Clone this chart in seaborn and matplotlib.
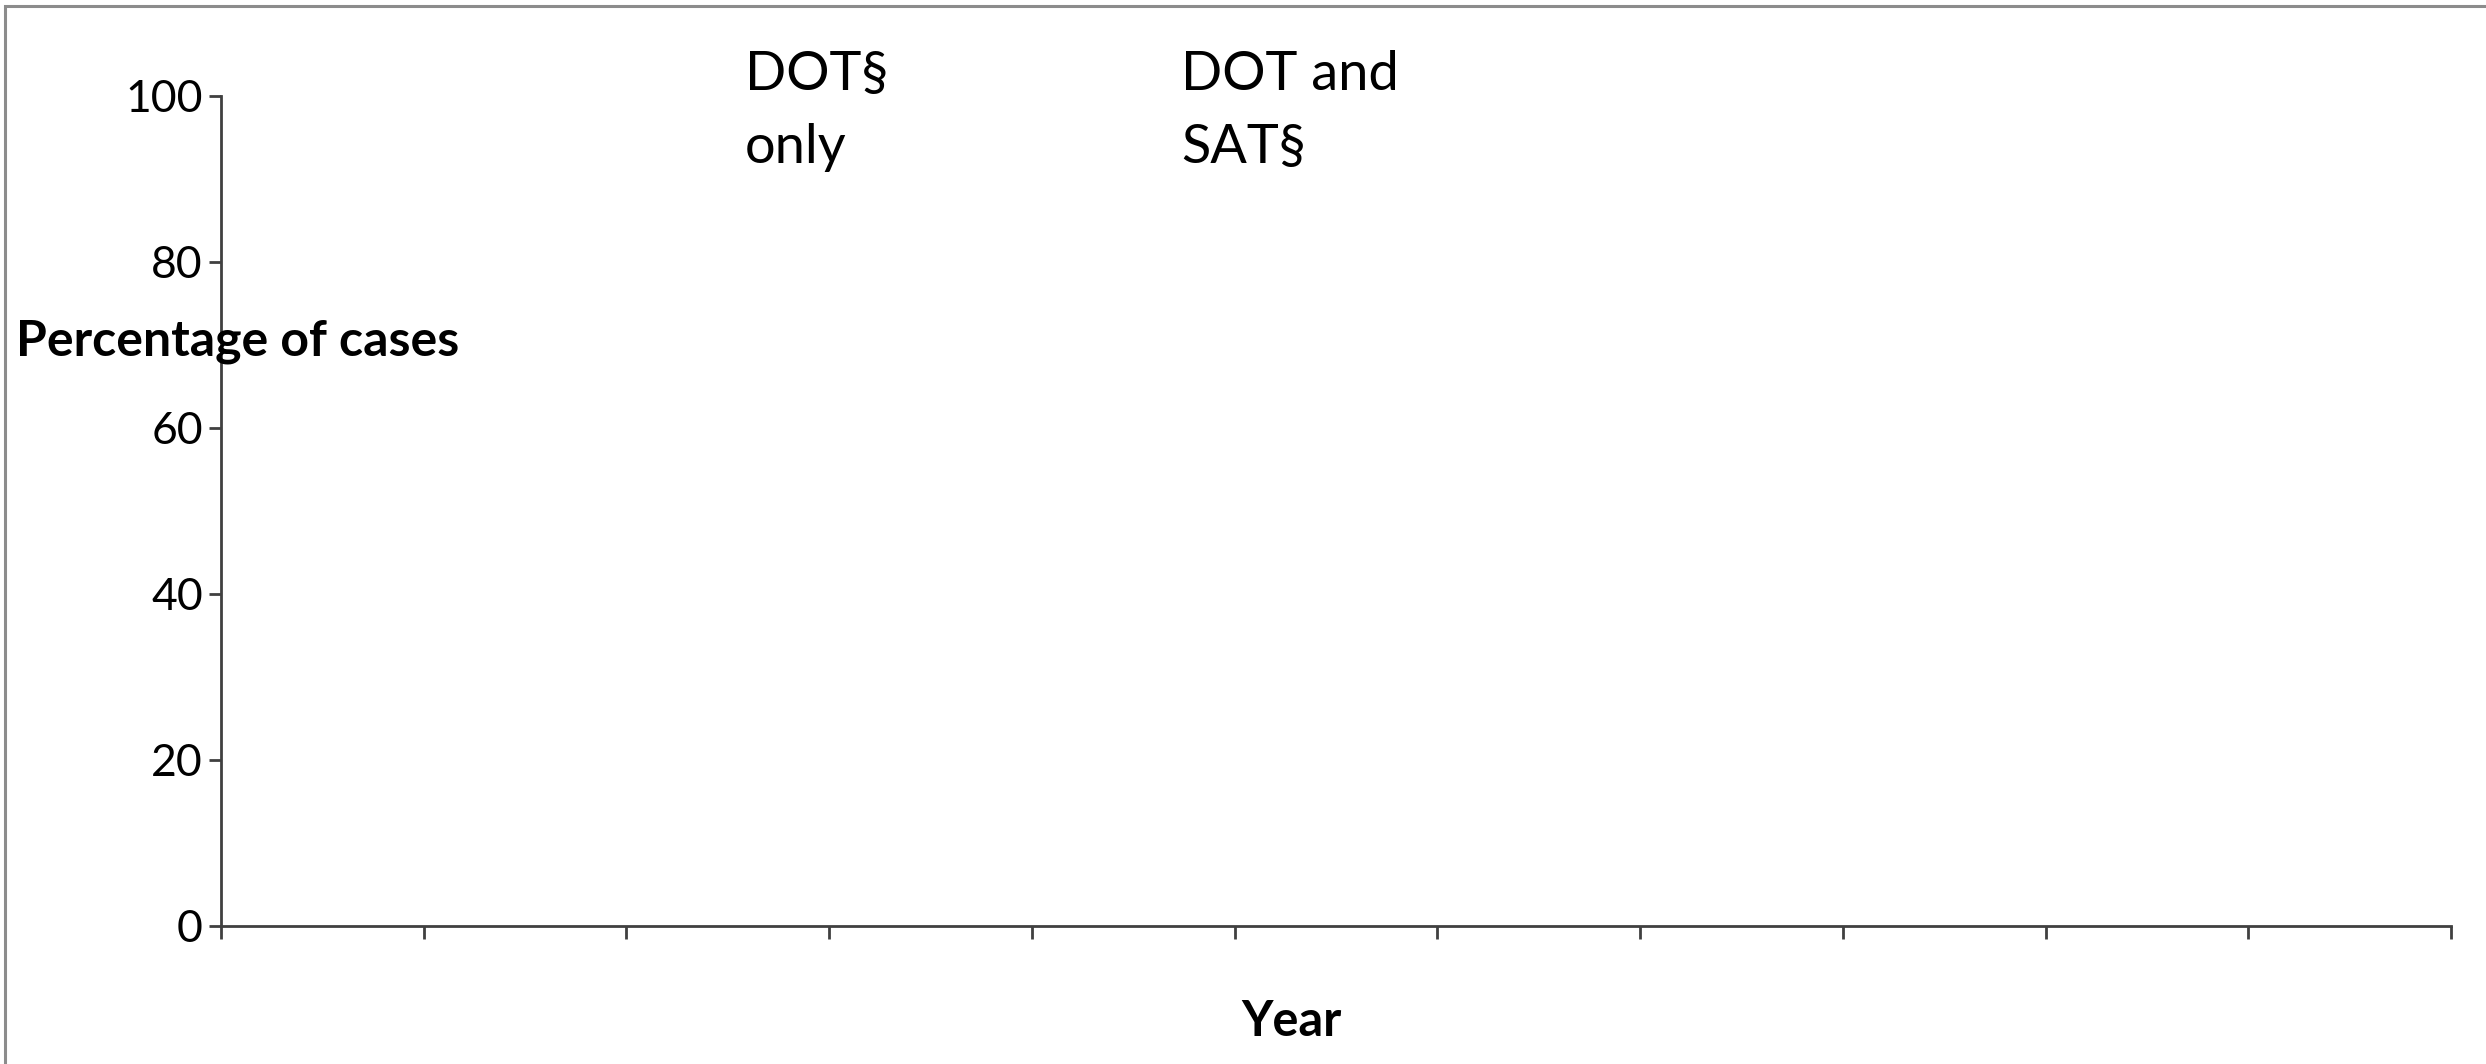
import matplotlib
matplotlib.use("Agg")
import matplotlib.pyplot as plt
import seaborn as sns
import pandas as pd
from matplotlib.patches import Rectangle

# ---- data (the reference chart shows no plotted values) ----
categories = [f"c{i}" for i in range(1, 12)]   # 11 year slots, unlabeled in the reference
values = [0] * 11                               # no visible bars
y_ticks = [0, 20, 40, 60, 80, 100]
annotation_dot_only = "DOT§\nonly"
annotation_dot_sat = "DOT and\nSAT§"
y_label = "Percentage of cases"
x_label = "Year"

sns.set_theme(style="white")
plt.rcParams["font.family"] = ["Lato", "DejaVu Sans"]
plt.rcParams["text.color"] = "black"

W, H = 2486, 1064
fig = plt.figure(figsize=(W / 100, H / 100), dpi=100)
ax = fig.add_axes([221 / W, 138 / H, (2451 - 221) / W, (926 - 96) / H])

df = pd.DataFrame({"cat": categories, "val": values})
sns.barplot(data=df, x="cat", y="val", ax=ax, color="#4f81bd", linewidth=0, errorbar=None)

ax.set_xlim(-0.5, len(categories) - 0.5)
ax.set_ylim(0, 100)
ax.set_yticks(y_ticks)
ax.set_yticklabels([str(t) for t in y_ticks], fontsize=32, color="black")
ax.set_xticks([i - 0.5 for i in range(len(categories) + 1)])
ax.set_xticklabels([])
ax.set_xlabel("")
ax.set_ylabel("")

for s in ["top", "right"]:
    ax.spines[s].set_visible(False)
for s in ["left", "bottom"]:
    ax.spines[s].set_color("#404040")
    ax.spines[s].set_linewidth(2)
ax.tick_params(axis="both", which="major", direction="out", length=9, width=2,
               color="#404040", left=True, bottom=True, pad=4, labelcolor="black")

# annotations
fig.text(745 / W, 1 - 50 / H, annotation_dot_only, fontsize=39, va="top", ha="left",
         linespacing=1.6, color="black")
fig.text(1181 / W, 1 - 50 / H, annotation_dot_sat, fontsize=39, va="top", ha="left",
         linespacing=1.6, color="black")

fig.text(16 / W, 1 - 342 / H, y_label, fontsize=36, fontweight="bold", va="center", ha="left",
         color="black")
fig.text(1291 / W, 1 - 1021 / H, x_label, fontsize=35, fontweight="bold", va="center", ha="center",
         color="black")

# outer chart border (top and left visible)
fig.patches.append(Rectangle((5 / W, -0.1), 1.2, (1 - 6 / H) + 0.1, transform=fig.transFigure,
                             fill=False, edgecolor="#8c8c8c", linewidth=2.2))

fig.savefig("out.png", dpi=100)
